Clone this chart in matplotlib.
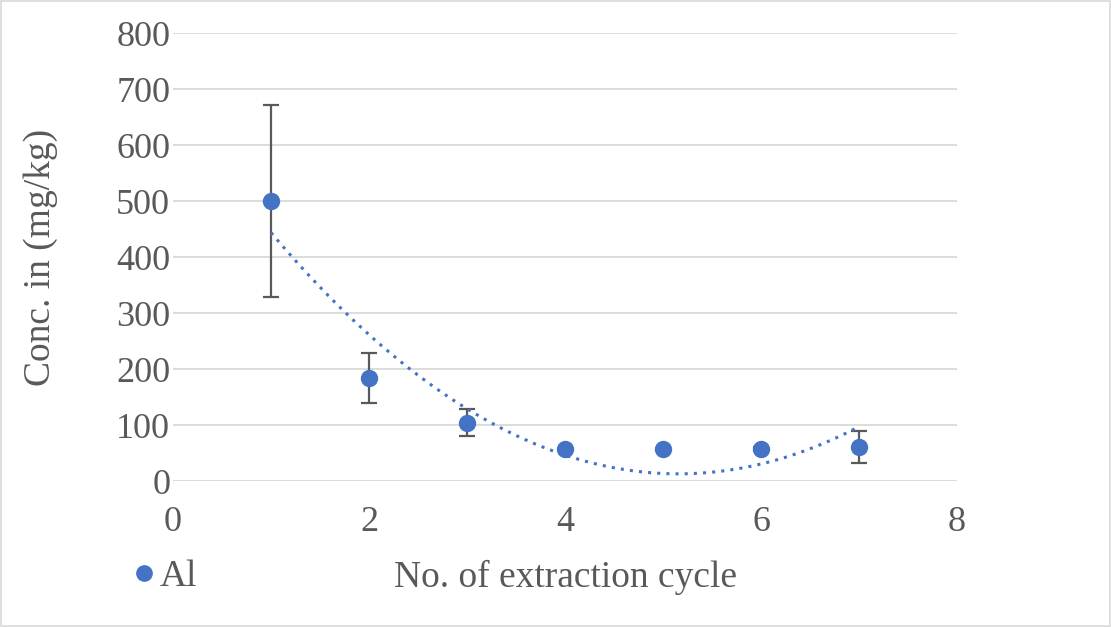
import numpy as np
import matplotlib.pyplot as plt
from matplotlib.lines import Line2D

cycle = [1, 2, 3, 4, 5, 6, 7]
conc = [500, 184, 104, 57, 58, 57, 61]
err = [172, 45, 24, 0, 0, 4, 28]

blue = '#4472C4'
grey = '#595959'

plt.rcParams['font.family'] = ['Liberation Serif', 'DejaVu Serif']

fig = plt.figure(figsize=(11.11, 6.27), dpi=100)
ax = fig.add_axes([173 / 1111, 1 - 481 / 627, (957 - 173) / 1111, (481 - 33) / 627])

ax.errorbar(cycle, conc, yerr=err, fmt='none', ecolor=grey, elinewidth=1.6,
            capsize=6, capthick=1.6, zorder=2)
ax.plot(cycle, conc, 'o', color=blue, markersize=11.5, zorder=3)

# 2nd order polynomial trendline
coef = np.polyfit(cycle, conc, 2)
xs = np.linspace(min(cycle), max(cycle), 200)
ax.plot(xs, np.polyval(coef, xs), linestyle=(0, (1, 2)), color=blue, linewidth=2.2, zorder=2)

ax.set_xlim(0, 8)
ax.set_ylim(0, 800)
ax.set_xticks(range(0, 9, 2))
ax.set_yticks(range(0, 801, 100))
ax.grid(axis='y', color='#d9d9d9', linewidth=1.3)
ax.set_axisbelow(True)
for s in ax.spines.values():
    s.set_visible(False)
ax.tick_params(length=0, labelsize=26, labelcolor=grey)
ax.tick_params(axis='y', pad=2)
ax.tick_params(axis='x', pad=18)

ax.set_ylabel('Conc. in (mg/kg)', fontsize=27, color=grey, labelpad=42)
fig.text(565 / 1111, 1 - 577 / 627, 'No. of extraction cycle', fontsize=27, color=grey,
         ha='center', va='center')

h = Line2D([], [], marker='o', linestyle='none', color=blue, markersize=11)
fig.legend([h], ['Al'], loc='center left', bbox_to_anchor=(103 / 1111, 1 - 577 / 627),
           frameon=False, fontsize=27, labelcolor=grey, handletextpad=-0.2,
           handlelength=1.2, borderpad=0)

fig.patches.append(plt.Rectangle((0.001, 0.001), 0.998, 0.997, transform=fig.transFigure,
                                 fill=False, edgecolor='#d9d9d9', linewidth=1.2))

fig.savefig('out.png', dpi=100)
